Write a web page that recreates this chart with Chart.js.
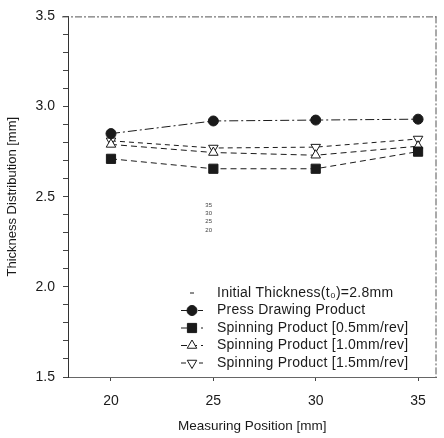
<!DOCTYPE html>
<html>
<head>
<meta charset="utf-8">
<script src="https://cdn.jsdelivr.net/npm/chart.js@4.4.0/dist/chart.umd.min.js"></script>
<style>
  html, body { margin: 0; padding: 0; background: #fff; }
  #wrap { width: 444px; height: 438px; }
</style>
</head>
<body>
<div id="wrap"><canvas id="chart" width="444" height="438"></canvas></div>
<script>
// measuring positions (mm)
const positions = [20, 25, 30, 35];
const xTicks = [20, 25, 30, 35];

// thickness values (mm)
const pressDrawing = [2.85, 2.92, 2.925, 2.93];
const spin05 = [2.71, 2.655, 2.655, 2.75];
const spin10 = [2.79, 2.745, 2.73, 2.78];
const spin15 = [2.81, 2.77, 2.775, 2.82];

const labels = [
    'Initial Thickness(t\u2080)=2.8mm',
    'Press Drawing Product',
    'Spinning Product [0.5mm/rev]',
    'Spinning Product [1.0mm/rev]',
    'Spinning Product [1.5mm/rev]'
];

// tiny stray labels printed in the scan
const strayLabels = ['35', '30', '25', '20'];

const FONT = '"Liberation Sans", Arial, sans-serif';
const INK = '#1a1a1a';

function toPoints(vals) {
    return vals.map((v, i) => ({ x: positions[i], y: v }));
}

function series(label, vals, style, dash, extra) {
    return Object.assign({
        label: label,
        data: toPoints(vals),
        borderColor: INK,
        backgroundColor: INK,
        borderWidth: 1,
        borderDash: dash,
        pointStyle: style,
        pointRadius: 5,
        pointBorderColor: INK,
        pointBorderWidth: 1,
        tension: 0
    }, extra || {});
}

// frame + legend + stray text
const decorPlugin = {
    id: 'decor',
    afterDraw(chart) {
        const ctx = chart.ctx;
        const a = chart.chartArea;
        ctx.save();
        // dashed frame on top and right
        ctx.strokeStyle = '#555';
        ctx.lineWidth = 1;
        ctx.setLineDash([7, 2, 2, 2]);
        ctx.beginPath();
        ctx.moveTo(a.left - 6, a.top + 0.5);
        ctx.lineTo(a.right, a.top + 0.5);
        ctx.moveTo(a.right - 0.5, a.top);
        ctx.lineTo(a.right - 0.5, a.bottom);
        ctx.stroke();
        ctx.setLineDash([]);

        // legend
        const lx = 192, ty = 293, step = 17.5;
        ctx.font = '14px ' + FONT;
        ctx.letterSpacing = '0.25px';
        ctx.textBaseline = 'middle';
        chart.data.datasets.forEach((ds, i) => {
            const y = ty + i * step;
            ctx.fillStyle = INK;
            ctx.fillText(ds.label, 217, y);
            ctx.strokeStyle = INK;
            ctx.lineWidth = 1;
            if (i === 0) {
                ctx.beginPath();
                ctx.moveTo(lx - 2, y);
                ctx.lineTo(lx + 2, y);
                ctx.stroke();
                return;
            }
            ctx.setLineDash(ds.borderDash || []);
            ctx.beginPath();
            ctx.moveTo(lx - 11, y);
            ctx.lineTo(lx + 11, y);
            ctx.stroke();
            ctx.setLineDash([]);
            ctx.fillStyle = ds.pointBackgroundColor || INK;
            Chart.helpers.drawPoint(ctx, {
                pointStyle: ds.pointStyle,
                radius: ds.pointRadius,
                rotation: ds.pointRotation || 0,
                borderWidth: 1
            }, lx, y);
        });

        // stray tiny labels
        ctx.letterSpacing = '0px';
        ctx.font = '6px ' + FONT;
        ctx.fillStyle = '#444';
        ctx.textAlign = 'right';
        strayLabels.forEach((t, i) => {
            ctx.fillText(t, 212, 205 + i * 8.3);
        });
        ctx.restore();
    }
};

const ctx = document.getElementById('chart').getContext('2d');
const chart = new Chart(ctx, {
    type: 'line',
    data: {
        datasets: [
            { label: labels[0], data: [], pointStyle: 'line', borderColor: INK, showLine: false },
            series(labels[1], pressDrawing, 'circle', [9, 3, 2, 3]),
            series(labels[2], spin05, 'rect', [6, 4], { pointRadius: 6.5 }),
            series(labels[3], spin10, 'triangle', [6, 4], { pointBackgroundColor: '#fff', pointRadius: 5.5 }),
            series(labels[4], spin15, 'triangle', [5, 4], { pointBackgroundColor: '#fff', pointRadius: 5.5, pointRotation: 180 })
        ]
    },
    options: {
        responsive: false,
        animation: false,
        layout: { padding: { top: 14, right: 3, left: 0, bottom: 0 } },
        plugins: {
            legend: { display: false },
            tooltip: { enabled: false }
        },
        scales: {
            x: {
                type: 'linear',
                min: 17.9,
                max: 35.9,
                afterBuildTicks: (axis) => {
                    axis.ticks = xTicks.map(v => ({ value: v }));
                },
                afterFit: (axis) => { axis.height = 61; },
                grid: { display: true, drawOnChartArea: false, tickLength: 4, color: '#444' },
                border: { display: true, color: '#666', dash: [6, 2, 1, 2] },
                ticks: {
                    color: INK,
                    font: { family: FONT, size: 14 },
                    padding: 12,
                    maxRotation: 0
                },
                title: {
                    display: true,
                    text: 'Measuring Position [mm]',
                    color: INK,
                    font: { family: FONT, size: 13.5 },
                    padding: { top: 4 }
                }
            },
            y: {
                min: 1.5,
                max: 3.5,
                afterBuildTicks: (axis) => {
                    const t = [];
                    for (let k = 15; k <= 35; k++) t.push({ value: k / 10 });
                    axis.ticks = t;
                },
                afterFit: (axis) => { axis.width = 68; },
                grid: {
                    display: true,
                    drawOnChartArea: false,
                    tickLength: 5,
                    color: '#444'
                },
                border: { display: true, color: '#333' },
                ticks: {
                    color: INK,
                    font: { family: FONT, size: 14 },
                    padding: 8,
                    autoSkip: false,
                    callback: (v) => (Math.abs(v * 2 - Math.round(v * 2)) < 1e-6 ? v.toFixed(1) : '')
                },
                title: {
                    display: true,
                    text: 'Thickness Distribution [mm]',
                    color: INK,
                    font: { family: FONT, size: 13 },
                    padding: { top: 5, bottom: 0 }
                }
            }
        }
    },
    plugins: [decorPlugin]
});
</script>
</body>
</html>
